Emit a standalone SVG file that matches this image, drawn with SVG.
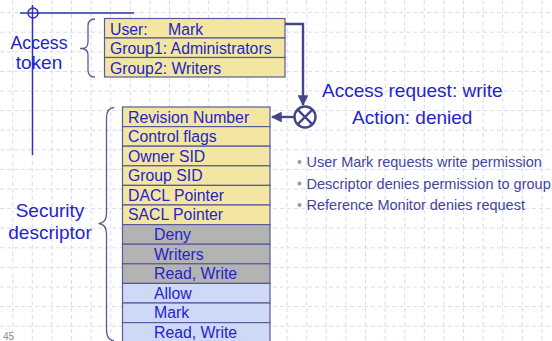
<svg xmlns="http://www.w3.org/2000/svg" width="552" height="341" viewBox="0 0 552 341">
  <defs>
    <style>
      .grid { stroke: #d6dcf4; stroke-width: 1; stroke-dasharray: 4 3; fill: none; }
      .ink { stroke: #3030b8; stroke-width: 1.5; fill: none; }
      .brace { stroke: #5a5a8c; stroke-width: 1.3; fill: none; }
      .cell { stroke: #5a5a9a; stroke-width: 1.2; }
      .hdr { fill: #f3e6a2; }
      .deny { fill: #b3b3b3; }
      .allow { fill: #cdd9f7; }
      .t { font-family: "Liberation Sans", Arial, sans-serif; fill: #2424c8; }
      .cellt { font-size: 15.8px; }
      .label { font-size: 19px; }
      .note { font-family: "Liberation Sans", Arial, sans-serif; font-size: 14.5px; fill: #45459a; }
      .dot { fill: #9a9aa6; }
      .conn { stroke: #45458a; stroke-width: 2.4; fill: none; }
    </style>
    <marker id="arrow" viewBox="0 0 10 10" refX="9" refY="5" markerWidth="4.5" markerHeight="4.5" orient="auto">
      <path d="M0,0 L10,5 L0,10 z" fill="#45458a"/>
    </marker>
  </defs>

  <!-- background -->
  <rect width="552" height="341" fill="#ffffff"/>
  <path class="grid" d="M12.7,0V341 M32.3,0V341 M51.9,0V341 M71.5,0V341 M91.1,0V341 M110.7,0V341 M130.3,0V341 M149.9,0V341 M169.5,0V341 M189.1,0V341 M208.7,0V341 M228.3,0V341 M247.9,0V341 M267.5,0V341 M287.1,0V341 M306.7,0V341 M326.3,0V341 M345.9,0V341 M365.5,0V341 M385.1,0V341 M404.7,0V341 M424.3,0V341 M443.9,0V341 M463.5,0V341 M483.1,0V341 M502.7,0V341 M522.3,0V341 M541.9,0V341"/>
  <path class="grid" d="M0,12.6H552 M0,32.2H552 M0,51.8H552 M0,71.4H552 M0,91H552 M0,110.6H552 M0,130.2H552 M0,149.8H552 M0,169.4H552 M0,189H552 M0,208.6H552 M0,228.2H552 M0,247.8H552 M0,267.4H552 M0,287H552 M0,306.6H552 M0,326.2H552"/>

  <!-- slide guide lines -->
  <g id="guides">
    <path class="ink" d="M20,13H134 M32.5,5V155"/>
    <circle class="ink" cx="33" cy="13" r="5"/>
  </g>

  <!-- access token -->
  <g id="access-token">
    <text class="t label" x="39" y="49" text-anchor="middle" textLength="57" lengthAdjust="spacingAndGlyphs">Access</text>
    <text class="t label" x="39" y="69" text-anchor="middle">token</text>
    <path class="brace" d="M95,19 Q88,19 88,26 V42 Q88,48.5 82,48.5 Q88,49 88,55 V70 Q88,77 95,77 M80,48.5H83"/>
    <rect class="cell hdr" x="104.5" y="18.5" width="180.5" height="19.5"/>
    <rect class="cell hdr" x="104.5" y="38" width="180.5" height="19.5"/>
    <rect class="cell hdr" x="104.5" y="57.5" width="180.5" height="19.5"/>
    <text class="t cellt" x="110" y="35">User:</text>
    <text class="t cellt" x="168" y="35">Mark</text>
    <text class="t cellt" x="110" y="54">Group1: Administrators</text>
    <text class="t cellt" x="110" y="73.5">Group2: Writers</text>
  </g>

  <!-- reference monitor decision -->
  <g id="monitor">
    <circle cx="305" cy="117" r="10.5" fill="#ffffff" stroke="#45458a" stroke-width="2.4"/>
    <path d="M297.6,109.6 L312.4,124.4 M312.4,109.6 L297.6,124.4" stroke="#45458a" stroke-width="2.4"/>
    <text class="t label" x="322" y="97">Access request: write</text>
    <text class="t label" x="352" y="124">Action: denied</text>
  </g>

  <!-- connectors -->
  <g id="connectors">
    <path class="conn" d="M285,24 H303 V105" marker-end="url(#arrow)"/>
    <path class="conn" d="M294.5,117 H272" marker-end="url(#arrow)"/>
  </g>

  <!-- security descriptor -->
  <g id="security-descriptor">
    <text class="t label" x="50" y="217" text-anchor="middle">Security</text>
    <text class="t label" x="50" y="239" text-anchor="middle">descriptor</text>
    <path class="brace" d="M114,107.5 Q106.5,108 106.5,118 V213 Q106.5,223.5 98.5,223.5 Q106.5,224 106.5,234 V330 Q106.5,340 114,341"/>
    <g>
      <rect class="cell hdr" x="122.5" y="107" width="147.5" height="19.6"/>
      <rect class="cell hdr" x="122.5" y="126.6" width="147.5" height="19.6"/>
      <rect class="cell hdr" x="122.5" y="146.2" width="147.5" height="19.6"/>
      <rect class="cell hdr" x="122.5" y="165.8" width="147.5" height="19.6"/>
      <rect class="cell hdr" x="122.5" y="185.4" width="147.5" height="19.6"/>
      <rect class="cell hdr" x="122.5" y="205" width="147.5" height="19.6"/>
      <rect class="cell deny" x="122.5" y="224.6" width="147.5" height="19.6"/>
      <rect class="cell deny" x="122.5" y="244.2" width="147.5" height="19.6"/>
      <rect class="cell deny" x="122.5" y="263.8" width="147.5" height="19.6"/>
      <rect class="cell allow" x="122.5" y="283.4" width="147.5" height="19.6"/>
      <rect class="cell allow" x="122.5" y="303" width="147.5" height="19.6"/>
      <rect class="cell allow" x="122.5" y="322.6" width="147.5" height="19.6"/>
    </g>
    <text class="t cellt" x="128" y="122.5">Revision Number</text>
    <text class="t cellt" x="128" y="142">Control flags</text>
    <text class="t cellt" x="128" y="161.6">Owner SID</text>
    <text class="t cellt" x="128" y="181.2">Group SID</text>
    <text class="t cellt" x="128" y="200.8">DACL Pointer</text>
    <text class="t cellt" x="128" y="220.4">SACL Pointer</text>
    <text class="t cellt" x="154" y="240">Deny</text>
    <text class="t cellt" x="154" y="259.6">Writers</text>
    <text class="t cellt" x="154" y="279.2">Read, Write</text>
    <text class="t cellt" x="154" y="298.8">Allow</text>
    <text class="t cellt" x="154" y="318.4">Mark</text>
    <text class="t cellt" x="154" y="338">Read, Write</text>
  </g>

  <!-- notes -->
  <g id="notes">
    <circle class="dot" cx="299.5" cy="162" r="2"/>
    <circle class="dot" cx="299.5" cy="183.5" r="2"/>
    <circle class="dot" cx="299.5" cy="205" r="2"/>
    <text class="note" x="306.5" y="167">User Mark requests write permission</text>
    <text class="note" x="306.5" y="188.5">Descriptor denies permission to group</text>
    <text class="note" x="306.5" y="210">Reference Monitor denies request</text>
  </g>

  <!-- page number -->
  <text x="3" y="340" font-family="Liberation Sans, Arial, sans-serif" font-size="10" fill="#8a8aa0">45</text>
</svg>
